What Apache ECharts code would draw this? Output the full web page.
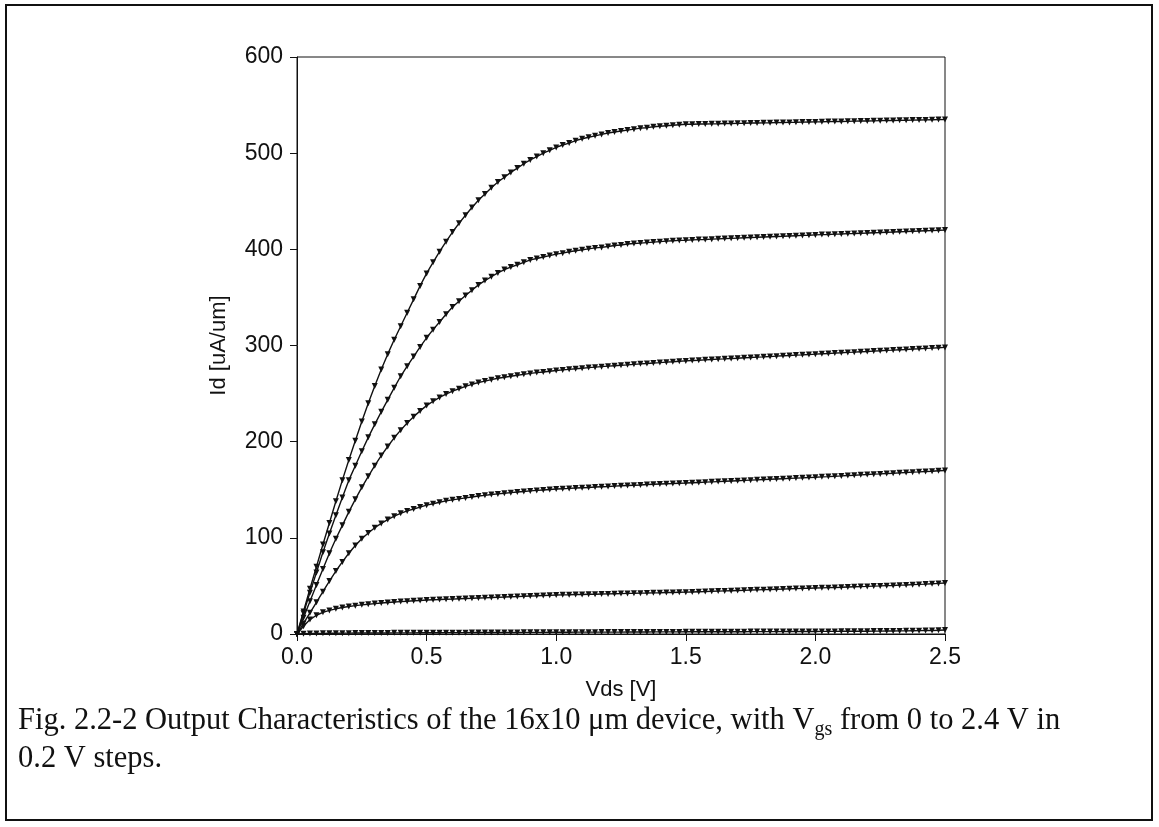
<!DOCTYPE html>
<html>
<head>
<meta charset="utf-8">
<script src="https://cdn.jsdelivr.net/npm/echarts@6/dist/echarts.min.js"></script>
<style>
html,body{margin:0;padding:0;background:#fff;}
#chart{width:1159px;height:827px;}
</style>
</head>
<body>
<div id="chart"></div>
<script>
// Drain voltage samples [V]
var vds = [0,0.025,0.05,0.075,0.1,0.125,0.15,0.175,0.2,0.225,0.25,0.275,0.3,0.325,0.35,0.375,0.4,0.425,0.45,0.475,0.5,
0.525,0.55,0.575,0.6,0.625,0.65,0.675,0.7,0.725,0.75,0.775,0.8,0.825,0.85,0.875,0.9,0.925,0.95,0.975,1.0,
1.025,1.05,1.075,1.1,1.125,1.15,1.175,1.2,1.225,1.25,1.275,1.3,1.325,1.35,1.375,1.4,1.425,1.45,1.475,1.5,
1.525,1.55,1.575,1.6,1.625,1.65,1.675,1.7,1.725,1.75,1.775,1.8,1.825,1.85,1.875,1.9,1.925,1.95,1.975,2.0,
2.025,2.05,2.075,2.1,2.125,2.15,2.175,2.2,2.225,2.25,2.275,2.3,2.325,2.35,2.375,2.4,2.425,2.45,2.475,2.5];

// Drain current [uA/um] for each Vgs curve
var idVgs24 = [0,23.5,47,70,93,115.5,138,160,181,201,221,240,258,275,291,306,320,334,348,362,375,
386.5,397.5,408,418,427,435.5,443.5,451,457.5,464,470,475,480,484.5,489,493,496.5,500,503,506,
508.5,510.5,513,515,516.5,518,519.5,521,522,523,524,525,526,526.5,527.5,528,528.5,529,529.5,530,
530.1,530.3,530.4,530.5,530.6,530.8,530.9,531.0,531.1,531.3,531.4,531.5,531.6,531.8,531.9,532.0,532.1,532.3,532.4,532.5,
532.6,532.8,532.9,533.0,533.1,533.3,533.4,533.5,533.6,533.8,533.9,534.0,534.1,534.3,534.4,534.5,534.6,534.8,534.9,535.0];

var idVgs22 = [0,21.5,43,64,85,104.5,123.5,142,160,175,190,204.5,218,231,243.5,256,268,278.5,288.5,298.5,308,
316.5,324.5,332.5,340,346,352,357.5,363,367.5,371.5,375.5,379,381.5,384,386.5,389,390.5,392,393.5,395,
396,397.5,398.5,399.5,400.5,401.5,402,403,404,404.5,405.5,406,406.5,407,407.5,408,408.5,409,409.3,409.5,
409.8,410.1,410.3,410.6,410.9,411.2,411.4,411.7,412.0,412.3,412.5,412.8,413.1,413.4,413.6,413.9,414.2,414.5,414.7,415.0,
415.3,415.5,415.8,416.0,416.3,416.5,416.8,417.0,417.3,417.5,417.8,418.0,418.3,418.5,418.8,419.0,419.3,419.5,419.8,420.0];

var idVgs20 = [0,17,34,51,67.5,84,99,113,127,140,152.5,164,175,185.5,195,204,212,219.5,226,232,237.5,
242,246,249.5,252.5,255,257.5,259.5,261.5,263,264.5,266,267,268,269,270,271,271.8,272.5,273.2,274,
274.6,275.2,275.8,276.4,277,277.5,278,278.5,279,279.5,279.9,280.4,280.9,281.3,281.8,282.2,282.7,283.1,283.6,284.0,
284.4,284.7,285.1,285.4,285.8,286.1,286.5,286.8,287.2,287.5,287.9,288.2,288.6,288.9,289.3,289.6,290.0,290.3,290.7,291.0,
291.4,291.7,292.1,292.4,292.8,293.1,293.5,293.8,294.2,294.5,294.9,295.2,295.6,295.9,296.3,296.6,297.0,297.3,297.7,298.0];

var idVgs18 = [0,11,22,33,44,55,65.5,75,84,92,99,105,110.5,115,119,122.5,125.5,128,130,132,134,
135.5,137,138.5,139.5,140.5,141.5,142.5,143.5,144.2,145,145.7,146.4,147,147.6,148.2,148.8,149.3,149.8,150.3,150.8,
151.1,151.4,151.8,152.1,152.4,152.8,153.1,153.4,153.8,154.1,154.4,154.7,155.0,155.4,155.7,156.0,156.3,156.5,156.8,157.0,
157.3,157.6,157.9,158.2,158.5,158.8,159.1,159.4,159.7,160.0,160.3,160.6,160.9,161.2,161.5,161.8,162.1,162.4,162.7,163.0,
163.4,163.7,164.1,164.4,164.8,165.1,165.5,165.8,166.2,166.5,166.9,167.2,167.6,167.9,168.3,168.6,169.0,169.3,169.7,170.0];

var idVgs16 = [0,8,15,19.5,22.5,24.5,26.2,27.5,28.6,29.5,30.3,31,31.6,32.2,32.7,33.2,33.7,34.1,34.5,34.9,35.3,
35.6,35.8,36.1,36.3,36.6,36.9,37.1,37.4,37.6,37.9,38.2,38.4,38.7,38.9,39.2,39.5,39.7,40.0,40.2,40.5,
40.7,40.8,41.0,41.1,41.3,41.4,41.6,41.7,41.9,42.0,42.2,42.3,42.5,42.6,42.8,42.9,43.1,43.2,43.4,43.5,
43.7,43.9,44.1,44.4,44.6,44.8,45.0,45.2,45.4,45.7,45.9,46.1,46.3,46.5,46.7,47.0,47.2,47.4,47.6,47.8,
48.0,48.2,48.4,48.6,48.9,49.1,49.3,49.5,49.8,50.0,50.3,50.5,50.8,51.0,51.3,51.6,51.9,52.3,52.6,53.0];

var idVgs14 = [0,0.3,0.5,0.6,0.7,0.8,0.8,0.9,0.9,1.0,1.0,1.0,1.1,1.1,1.1,1.2,1.2,1.2,1.2,1.3,1.3,
1.3,1.3,1.4,1.4,1.4,1.4,1.5,1.5,1.5,1.5,1.6,1.6,1.6,1.6,1.7,1.7,1.7,1.7,1.8,1.8,
1.8,1.8,1.9,1.9,1.9,1.9,2.0,2.0,2.0,2.0,2.1,2.1,2.1,2.1,2.2,2.2,2.2,2.2,2.2,2.3,
2.3,2.3,2.3,2.3,2.4,2.4,2.4,2.4,2.4,2.5,2.5,2.5,2.5,2.5,2.6,2.6,2.6,2.6,2.6,2.6,
2.7,2.7,2.7,2.8,2.8,2.8,2.9,2.9,3.0,3.0,3.1,3.1,3.2,3.3,3.4,3.5,3.6,3.7,3.9,4.2];

var seriesNames = ['Vgs = 2.4 V','Vgs = 2.2 V','Vgs = 2.0 V','Vgs = 1.8 V','Vgs = 1.6 V','Vgs = 1.4 V'];
var seriesValues = [idVgs24, idVgs22, idVgs20, idVgs18, idVgs16, idVgs14];

var xTicks = ['0.0','0.5','1.0','1.5','2.0','2.5'];
var yTicks = ['0','100','200','300','400','500','600'];

var chart = echarts.init(document.getElementById('chart'), null, {renderer: 'canvas'});

var series = seriesValues.map(function (vals, k) {
  return {
    name: seriesNames[k],
    type: 'line',
    data: vals.map(function (v, i) { return [vds[i], v]; }),
    symbol: 'triangle',
    symbolRotate: 180,
    symbolSize: 6,
    showSymbol: true,
    lineStyle: {color: '#111', width: 1.4},
    itemStyle: {color: '#111'},
    animation: false,
    silent: true
  };
});

var axisFont = 'Liberation Sans, Arial, sans-serif';
var serif = 'Liberation Serif, Times New Roman, serif';

chart.setOption({
  backgroundColor: '#fff',
  animation: false,
  title: {
    left: 18,
    top: 702,
    padding: 0,
    text: '{a|Fig. 2.2-2 Output Characteristics of the 16x10 \u03bcm device, with V}{s|gs}{a| from 0 to 2.4 V in}\n{a|0.2 V steps.}',
    textStyle: {
      fontWeight: 'normal',
      rich: {
        a: {fontFamily: serif, fontSize: 30.5, fontWeight: 'normal', color: '#111', lineHeight: 38},
        s: {fontFamily: serif, fontSize: 20, fontWeight: 'normal', color: '#111', lineHeight: 38, verticalAlign: 'bottom'}
      }
    }
  },
  grid: {
    left: 297, right: 214, top: 57, bottom: 193,
    show: true, borderColor: '#111', borderWidth: 1, backgroundColor: 'transparent'
  },
  xAxis: {
    type: 'value', min: 0, max: 2.5, interval: 0.5,
    name: 'Vds [V]', nameLocation: 'middle', nameGap: 45,
    nameTextStyle: {fontFamily: axisFont, fontSize: 22, color: '#111'},
    axisLine: {show: true, onZero: false, lineStyle: {color: '#111', width: 1}},
    axisTick: {show: true, inside: false, length: 7, lineStyle: {color: '#111'}},
    splitLine: {show: false},
    axisLabel: {
      margin: 12, fontFamily: axisFont, fontSize: 23, color: '#111',
      formatter: function (v) { var i = Math.round(v / 0.5); return xTicks[i] !== undefined ? xTicks[i] : ''; }
    }
  },
  yAxis: {
    type: 'value', min: 0, max: 600, interval: 100,
    name: 'Id [uA/um]', nameLocation: 'middle', nameGap: 67, nameRotate: 90,
    nameTextStyle: {fontFamily: axisFont, fontSize: 22, color: '#111'},
    axisLine: {show: true, onZero: false, lineStyle: {color: '#111', width: 1}},
    axisTick: {show: true, inside: false, length: 7, lineStyle: {color: '#111'}},
    splitLine: {show: false},
    axisLabel: {
      margin: 14, fontFamily: axisFont, fontSize: 23, color: '#111',
      formatter: function (v) { var i = Math.round(v / 100); return yTicks[i] !== undefined ? yTicks[i] : ''; }
    }
  },
  graphic: [{
    type: 'rect',
    shape: {x: 6, y: 5, width: 1146, height: 815},
    style: {fill: 'none', stroke: '#111', lineWidth: 2},
    silent: true,
    z: 100
  }],
  series: series
});
</script>
</body>
</html>
